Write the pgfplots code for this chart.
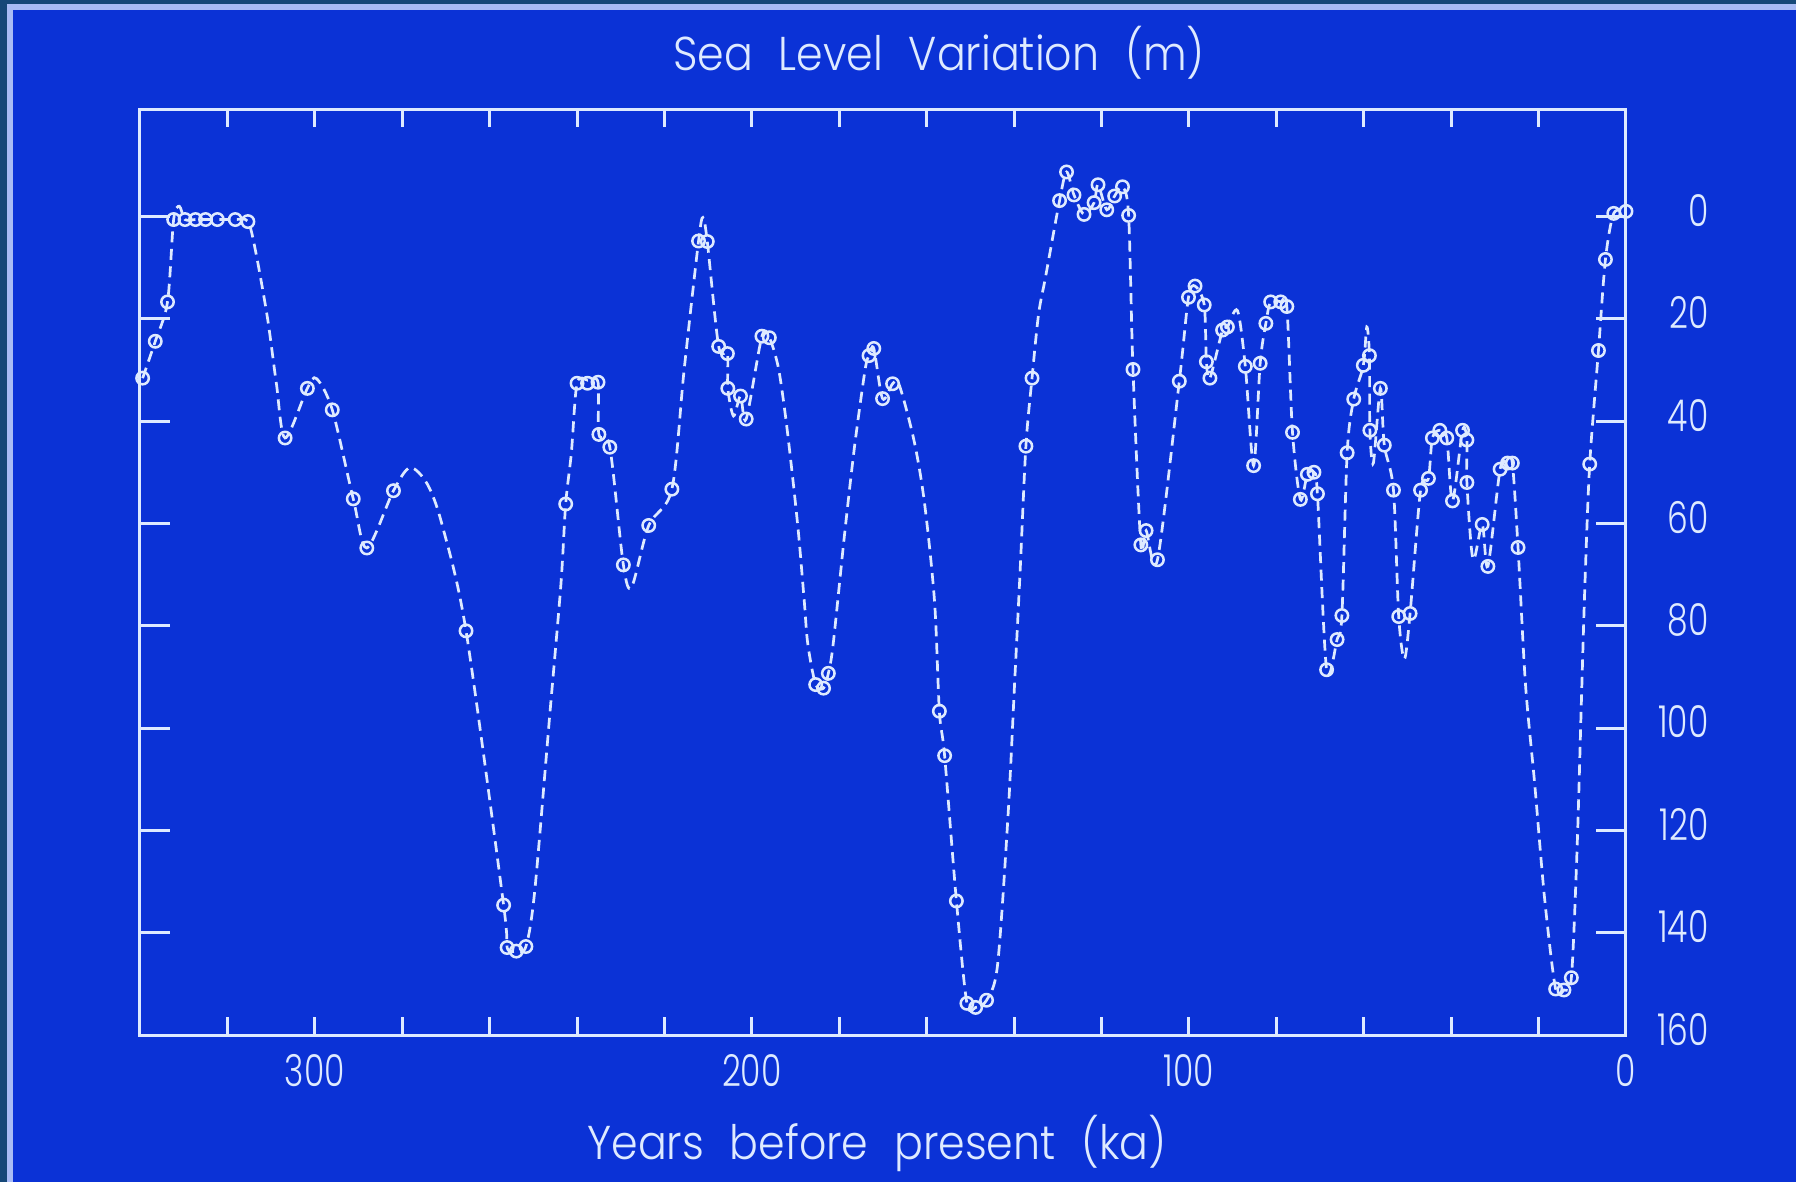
\documentclass[border=0pt]{standalone}
\usepackage{pgfplots}
\pgfplotsset{compat=1.18}
\usepackage{fontspec}
\setmainfont{Poppins}[UprightFont=*-Light, WordSpace=2.2]
\definecolor{bgblue}{RGB}{11,50,214}
\definecolor{navy}{RGB}{22,72,120}
\definecolor{lc}{RGB}{222,234,255}
\newcommand\labfont{\fontsize{13.5}{15}\selectfont}
\newcommand\tickfont{\fontsize{12.5}{14}\selectfont}

\pgfplotsset{
  myframe/.style={
    at={(14mm,14.7mm)}, anchor=south west, scale only axis,
    width=148.6mm, height=92.6mm,
    x dir=reverse, y dir=reverse,
    xmin=0, xmax=340, ymin=-21, ymax=160,
    axis line style={lc, line width=0.3mm},
    tick style={lc, line width=0.3mm},
    tick align=inside,
    /pgf/number format/assume math mode=true,
  }
}

\begin{document}
\begin{tikzpicture}
\fill[bgblue] (0,0) rectangle (179.6mm,118.2mm);
\useasboundingbox (0,0) rectangle (179.6mm,118.2mm);
% photo frame on left and top
\fill[navy] (0,0) rectangle (0.7mm,118.2mm);
\fill[navy] (0,117.8mm) rectangle (179.6mm,118.2mm);
\fill[lc!75!bgblue] (0.7mm,0) rectangle (1.3mm,117.8mm);
\fill[lc!75!bgblue] (0.7mm,117.2mm) rectangle (179.6mm,117.8mm);

% x ticks (short)
\begin{axis}[myframe,
  xtick={0,20,...,320},
  xticklabels={0,,,,,100,,,,,200,,,,,300,},
  ytick=\empty,
  major tick length=1.8mm,
  xticklabel style={font=\tickfont, text=lc, inner sep=0pt, yshift=-1.9mm, xscale=0.75},
]
\end{axis}

% y ticks (long) and data
\begin{axis}[myframe,
  xtick=\empty,
  ytick={0,20,...,160},
  yticklabel pos=right,
  major tick length=3mm,
  yticklabel style={font=\tickfont, text=lc, anchor=east, inner sep=0pt, xshift=8.3mm, yshift=0.6mm, xscale=0.75},
  clip=false,
]
% fitted curve
\addplot[lc, line width=0.27mm, dash pattern=on 1.1mm off 0.65mm, smooth, tension=0.5] coordinates {
(339.4,31.6) (336.5,24.4) (333.7,16.7) (332.3,0.6) (331.0,-2.0) (329.7,0.6)
(327.3,0.6) (325.0,0.6) (322.3,0.6) (318.2,0.6) (315.3,1.0)
(313.5,7) (310.8,20) (308.8,32.6) (306.8,43.3)
(301.7,33.6) (299.6,31.7) (296.0,37.8) (291.2,55.2) (288.1,64.8)
(282.0,53.6) (278.2,49.1) (274.2,52.4) (270.8,60.5) (265.4,81.0)
(256.8,134.6) (256.0,142.9) (253.9,143.6) (251.7,142.7)
(249.7,132.0) (246.3,98.0) (243.7,72.0) (242.6,56.2) (241.3,46.2)
(240.0,32.6) (237.6,32.0) (235.2,32.4) (235.0,42.6) (232.5,45.1)
(229.4,68.1) (227.5,72.4) (223.6,60.4) (218.3,53.3) (215.5,30)
(212.2,4.8) (211.2,0.2) (210.2,4.9) (207.6,25.4) (205.6,26.8)
(205.5,33.6) (204.2,39.0) (202.6,35.1) (201.3,39.6) (197.7,23.4) (196.0,23.7)
(194.0,29.3) (192.4,38.4) (190.8,50.0) (189.3,62.2) (188.0,75.3) (187.2,83.6)
(185.4,91.5) (183.6,92.2) (182.5,89.3) (181.4,83.6) (178.8,62.2) (176.5,44.9)
(174.1,30.0) (173.2,27.2) (172.1,25.8) (170.1,35.6) (167.8,32.7) (166.3,32.9)
(162.9,43.8) (160.5,56.0) (158.2,75.3) (157.1,96.7) (155.9,105.4) (153.2,133.8)
(150.8,153.8) (148.8,154.6) (146.3,153.2) (143.8,146.4) (141.4,117.3)
(139.9,91.5) (138.6,68.9) (137.3,44.9) (135.9,31.6) (134.4,19.1) (132.8,11.8)
(129.6,-3.1) (128.0,-8.7) (126.3,-4.2) (124.0,-0.4) (121.7,-2.7) (120.8,-6.2)
(118.8,-1.3) (117.0,-4.0) (115.2,-5.8) (113.8,-0.2) (112.8,29.9)
(111.0,64.2) (109.8,61.4) (107.2,67.1) (102.2,32.2) (100.1,15.8) (98.6,13.6)
(96.5,17.3) (96.0,28.4) (95.2,31.6) (92.3,22.2) (91.2,21.6) (88.9,18.4)
(87.1,29.3) (85.2,48.7) (83.7,28.7) (82.4,20.9) (81.3,16.7) (79.0,16.7)
(77.6,17.6) (76.3,42.2) (74.5,55.3) (72.9,50.4) (71.4,50.0) (70.6,54.2)
(68.5,88.6) (66.1,82.7) (65.0,78.0) (63.8,46.2) (62.3,35.7) (60.1,29.1)
(59.3,21.6) (58.7,27.2) (58.6,41.8) (57.8,48.2) (56.2,33.6) (55.3,44.7)
(53.2,53.5) (52.0,78.2) (50.7,86.5) (49.4,77.6) (47.0,53.5) (45.2,51.2)
(44.3,43.3) (42.6,41.8) (41.0,43.3) (39.7,55.6) (37.4,41.8) (36.4,43.7)
(36.4,52.0) (35.0,67.0) (32.9,60.2) (31.6,68.4) (28.8,49.4) (27.1,48.2)
(26.0,48.2) (24.7,64.7) (23.0,91.4) (20.9,110.8) (18.6,133.5)
(16.1,151.0) (14.2,151.2) (12.5,148.8) (11.2,123.8) (10.2,94.7) (9.4,72.0)
(8.3,48.4) (6.3,26.2) (4.7,8.4) (2.8,-0.6) (0.0,-1.0)
};
% data points
\addplot[only marks, mark=o, mark size=0.62mm, lc, mark options={line width=0.25mm, solid}] coordinates {
(339.4,31.6) (336.5,24.4) (333.7,16.7) (332.3,0.6) (329.7,0.6) (327.3,0.6)
(325.0,0.6) (322.3,0.6) (318.2,0.6) (315.3,1.0) (306.8,43.3) (301.7,33.6)
(296.0,37.8) (291.2,55.2) (288.1,64.8) (282.0,53.6) (265.4,81.0) (256.8,134.6)
(256.0,142.9) (253.9,143.6) (251.7,142.7) (242.6,56.2) (240.0,32.6) (237.6,32.6)
(235.2,32.4) (235.0,42.6) (232.5,45.1) (229.4,68.1) (223.6,60.4) (218.3,53.3)
(212.2,4.8) (210.2,4.9) (207.6,25.4) (205.6,26.8) (205.5,33.6) (202.6,35.1)
(201.3,39.6) (197.7,23.4) (196.0,23.7) (185.4,91.5) (183.6,92.2) (182.5,89.3)
(173.2,27.2) (172.1,25.8) (170.1,35.6) (167.8,32.7) (157.1,96.7) (155.9,105.4)
(153.2,133.8) (150.8,153.8) (148.8,154.6) (146.3,153.2) (137.3,44.9) (135.9,31.6)
(129.6,-3.1) (128.0,-8.7) (126.3,-4.2) (124.0,-0.4) (121.7,-2.7) (120.8,-6.2)
(118.8,-1.3) (117.0,-4.0) (115.2,-5.8) (113.8,-0.2) (112.8,29.9) (111.0,64.2)
(109.8,61.4) (107.2,67.1) (102.2,32.2) (100.1,15.8) (98.6,13.6) (96.5,17.3)
(96.0,28.4) (95.2,31.6) (92.3,22.2) (91.2,21.6) (87.1,29.3) (85.2,48.7)
(83.7,28.7) (82.4,20.9) (81.3,16.7) (79.0,16.7) (77.6,17.6) (76.3,42.2)
(74.5,55.3) (72.9,50.4) (71.4,50.0) (70.6,54.2) (68.5,88.6) (66.1,82.7)
(65.0,78.0) (63.8,46.2) (62.3,35.7) (60.1,29.1) (58.7,27.2) (58.6,41.8)
(56.2,33.6) (55.3,44.7) (53.2,53.5) (52.0,78.2) (49.4,77.6) (47.0,53.5)
(45.2,51.2) (44.3,43.3) (42.6,41.8) (41.0,43.3) (39.7,55.6) (37.4,41.8)
(36.4,43.7) (36.4,52.0) (32.9,60.2) (31.6,68.4) (28.8,49.4) (27.1,48.2)
(26.0,48.2) (24.7,64.7) (16.1,151.0) (14.2,151.2) (12.5,148.8) (8.3,48.4)
(6.3,26.2) (4.7,8.4) (2.8,-0.6) (0.0,-1.0)
};
\end{axis}

\node[text=lc, font=\labfont, xscale=0.9] at (93.9mm,112.9mm) {Sea Level Variation (m)};
\node[text=lc, font=\labfont, xscale=0.9] at (87.7mm,3.9mm) {Years before present (ka)};
\end{tikzpicture}
\end{document}
